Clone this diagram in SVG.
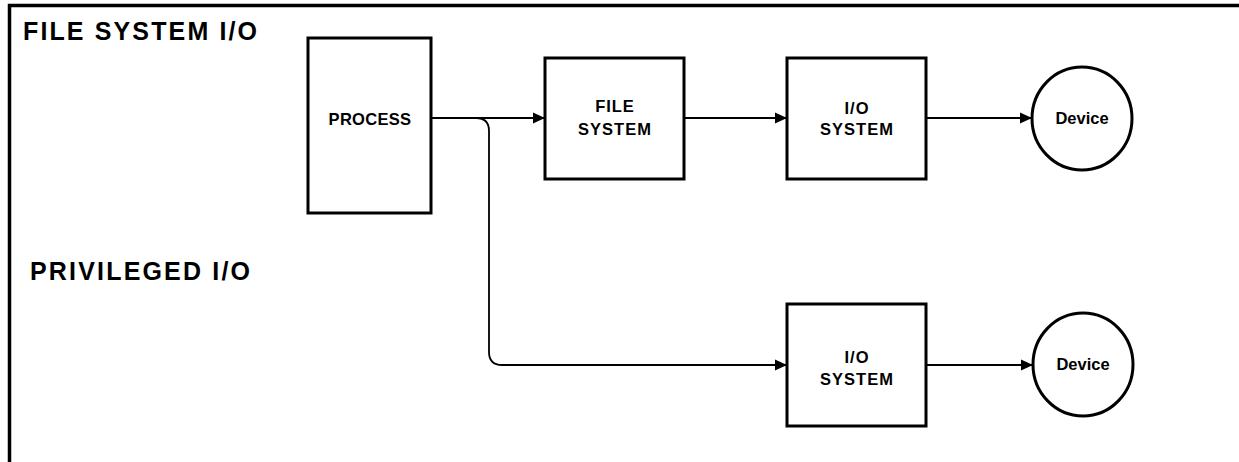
<svg xmlns="http://www.w3.org/2000/svg" width="1239" height="462" viewBox="0 0 1239 462">
  <style>
    .box { fill: #fff; stroke: #000; stroke-width: 3; }
    .line { fill: none; stroke: #000; stroke-width: 1.8; }
    .frame { fill: none; stroke: #000; stroke-width: 3.5; }
    .title { font-family: "Liberation Sans", Arial, sans-serif; font-weight: bold; font-size: 25px; fill: #000; }
    .lbl { font-family: "Liberation Sans", Arial, sans-serif; font-weight: bold; font-size: 16.5px; letter-spacing: 1px; fill: #000; text-anchor: middle; }
    .dev { font-family: "Liberation Sans", Arial, sans-serif; font-weight: bold; font-size: 16.5px; fill: #000; text-anchor: middle; }
  </style>
  <defs>
    <marker id="arrow" markerWidth="12" markerHeight="12" refX="11" refY="6" orient="auto" markerUnits="userSpaceOnUse">
      <path d="M0,0.5 L12,6 L0,11.5 Z" fill="#000"/>
    </marker>
  </defs>
  <rect width="1239" height="462" fill="#fff"/>
  <path class="frame" d="M9.5 462 V5.5 H1239"/>
  <text class="title" x="23" y="40" textLength="234" lengthAdjust="spacing">FILE SYSTEM I/O</text>
  <text class="title" x="30" y="280" textLength="220" lengthAdjust="spacing">PRIVILEGED I/O</text>

  <g id="connectors">
    <path class="line" d="M431 118 H544" marker-end="url(#arrow)"/>
    <path class="line" d="M476 118 Q489 118 489 131 V352 Q489 365 502 365 H786" marker-end="url(#arrow)"/>
    <path class="line" d="M684 118 H786" marker-end="url(#arrow)"/>
    <path class="line" d="M926 118 H1031" marker-end="url(#arrow)"/>
    <path class="line" d="M926 365 H1032" marker-end="url(#arrow)"/>
  </g>

  <g id="process">
    <rect class="box" x="308" y="38" width="123" height="175"/>
    <text class="lbl" x="370" y="125" style="letter-spacing:0.3px">PROCESS</text>
  </g>
  <g id="file-system">
    <rect class="box" x="545" y="58" width="139" height="121"/>
    <text class="lbl" x="615" y="112">FILE</text>
    <text class="lbl" x="615" y="135">SYSTEM</text>
  </g>
  <g id="io-system-1">
    <rect class="box" x="787" y="58" width="139" height="121"/>
    <text class="lbl" x="857" y="114">I/O</text>
    <text class="lbl" x="857" y="135">SYSTEM</text>
  </g>
  <g id="device-1">
    <ellipse class="box" cx="1082" cy="118.5" rx="50" ry="51.5"/>
    <text class="dev" x="1082" y="124">Device</text>
  </g>
  <g id="io-system-2">
    <rect class="box" x="787" y="304" width="139" height="122"/>
    <text class="lbl" x="857" y="363">I/O</text>
    <text class="lbl" x="857" y="385">SYSTEM</text>
  </g>
  <g id="device-2">
    <ellipse class="box" cx="1083" cy="364.5" rx="50" ry="51.5"/>
    <text class="dev" x="1083" y="370">Device</text>
  </g>
</svg>
